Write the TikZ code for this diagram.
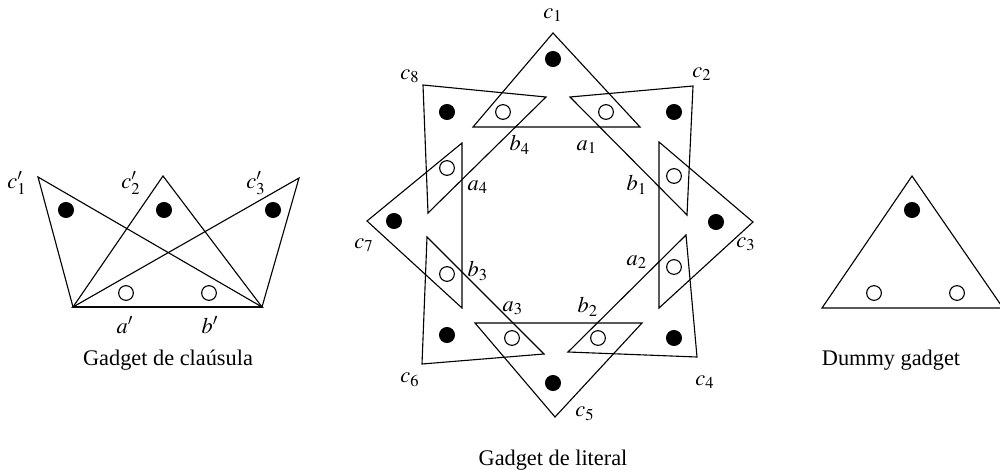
\documentclass[tikz,border=0pt]{standalone}
\usepackage{mathptmx}
\usepackage{fontspec}
\setmainfont{Liberation Serif}

\begin{document}
\begin{tikzpicture}[
                x=0.448pt,
                y=-0.448pt,
                gadget/.style={
                    draw,
                    line width=0.5pt,
                    line join=miter
                },
                full/.style={
                    circle,
                    fill=black,
                    minimum size=7.2pt,
                    inner sep=0pt
                },
                empty/.style={
                    circle,
                    draw,
                    fill=none,
                    line width=0.5pt,
                    minimum size=6.6pt,
                    inner sep=0pt
                },
                tag/.style={
                    inner sep=0pt,
                    font=\normalsize
                }
            ]

                \useasboundingbox (0,0) rectangle (1000,470);

                % clause gadget
                \node[coordinate] (k1) at (38,177) {};
                \node[coordinate] (k2) at (163,176) {};
                \node[coordinate] (k3) at (299,178) {};
                \node[coordinate] (bl) at (73,307) {};
                \node[coordinate] (br) at (262,307) {};

                \draw[gadget] (k1) -- (bl) -- (br) -- cycle;
                \draw[gadget] (k2) -- (bl) -- (br) -- cycle;
                \draw[gadget] (k3) -- (bl) -- (br) -- cycle;

                \node[full] (f1) at (66,210) {};
                \node[full] (f2) at (164,210) {};
                \node[full] (f3) at (273,210) {};
                \node[empty] (ea) at (126,293) {};
                \node[empty] (eb) at (209,293) {};

                \node[tag] (lk1) at (17,183) {$c'_1$};
                \node[tag] (lk2) at (131,183) {$c'_2$};
                \node[tag] (lk3) at (256,183) {$c'_3$};
                \node[tag] (la) at (125,325) {$a'$};
                \node[tag] (lb) at (210,325) {$b'$};
                \node[tag] (cap1) at (168,360) {Gadget de claúsula};

                % literal gadget
                \node[coordinate] (p1) at (553,33) {};
                \node[coordinate] (q1) at (473,127) {};
                \node[coordinate] (r1) at (640,127) {};

                \node[coordinate] (p2) at (693,86) {};
                \node[coordinate] (q2) at (570,97) {};
                \node[coordinate] (r2) at (687,215) {};

                \node[coordinate] (p3) at (753,222) {};
                \node[coordinate] (q3) at (659,142) {};
                \node[coordinate] (r3) at (659,308) {};

                \node[coordinate] (p4) at (697,357) {};
                \node[coordinate] (q4) at (686,235) {};
                \node[coordinate] (r4) at (568,352) {};

                \node[coordinate] (p5) at (555,417) {};
                \node[coordinate] (q5) at (642,323) {};
                \node[coordinate] (r5) at (475,323) {};

                \node[coordinate] (p6) at (422,364) {};
                \node[coordinate] (q6) at (544,354) {};
                \node[coordinate] (r6) at (427,237) {};

                \node[coordinate] (p7) at (367,221) {};
                \node[coordinate] (q7) at (462,308) {};
                \node[coordinate] (r7) at (462,143) {};

                \node[coordinate] (p8) at (423,85) {};
                \node[coordinate] (q8) at (428,213) {};
                \node[coordinate] (r8) at (546,97) {};

                \foreach \i in {1,...,8}
                    \draw[gadget] (p\i) -- (q\i) -- (r\i) -- cycle;

                \node[full] (d1) at (553,59) {};
                \node[full] (d2) at (674,112) {};
                \node[full] (d3) at (716,222) {};
                \node[full] (d4) at (674,338) {};
                \node[full] (d5) at (553,383) {};
                \node[full] (d6) at (447,335) {};
                \node[full] (d7) at (394,221) {};
                \node[full] (d8) at (447,112) {};

                \node[empty] (a1) at (606,112) {};
                \node[empty] (b1) at (674,176) {};
                \node[empty] (a2) at (674,267) {};
                \node[empty] (b2) at (598,338) {};
                \node[empty] (a3) at (512,338) {};
                \node[empty] (b3) at (447,274) {};
                \node[empty] (a4) at (447,168) {};
                \node[empty] (b4) at (503,112) {};

                \node[tag] (lc1) at (553,15) {$c_1$};
                \node[tag] (lc2) at (702,74) {$c_2$};
                \node[tag] (lc3) at (746,244) {$c_3$};
                \node[tag] (lc4) at (705,382) {$c_4$};
                \node[tag] (lc5) at (585,414) {$c_5$};
                \node[tag] (lc6) at (410,380) {$c_6$};
                \node[tag] (lc7) at (364,245) {$c_7$};
                \node[tag] (lc8) at (410,76) {$c_8$};

                \node[tag] (la1) at (587,147) {$a_1$};
                \node[tag] (lb1) at (637,185) {$b_1$};
                \node[tag] (la2) at (637,262) {$a_2$};
                \node[tag] (lb2) at (588,307) {$b_2$};
                \node[tag] (la3) at (513,308) {$a_3$};
                \node[tag] (lb3) at (478,271) {$b_3$};
                \node[tag] (la4) at (478,187) {$a_4$};
                \node[tag] (lb4) at (520,145) {$b_4$};

                \node[tag] (cap2) at (553,460) {Gadget de literal};

                % dummy gadget
                \node[coordinate] (t1) at (912,176) {};
                \node[coordinate] (t2) at (822,308) {};
                \node[coordinate] (t3) at (1003,308) {};

                \draw[gadget] (t1) -- (t2) -- (t3) -- cycle;

                \node[full] (g1) at (912,210) {};
                \node[empty] (g2) at (874,293) {};
                \node[empty] (g3) at (957,293) {};

                \node[tag] (cap3) at (891,360) {Dummy gadget};

            \end{tikzpicture}
\end{document}
